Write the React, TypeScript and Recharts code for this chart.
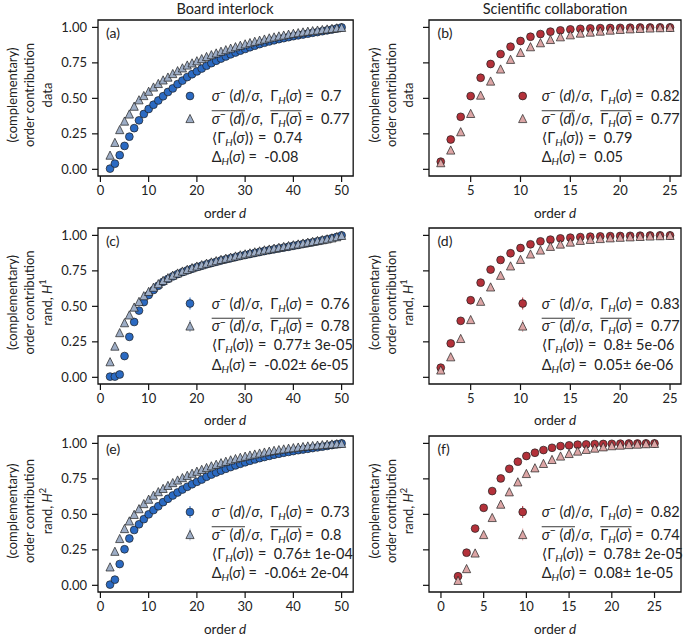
import React, { useLayoutEffect, useRef, useState } from 'react';
import { ScatterChart, Scatter, XAxis, YAxis, ReferenceArea } from 'recharts';

const FONT = "Lato, 'Open Sans', 'Noto Sans', 'DejaVu Sans', sans-serif";

// ---------- data ----------
const boardOrders = [2, 3, 4, 5, 6, 7, 8, 9, 10, 11, 12, 13, 14, 15, 16, 17, 18, 19, 20, 21, 22, 23, 24, 25, 26, 27, 28, 29, 30, 31, 32, 33, 34, 35, 36, 37, 38, 39, 40, 41, 42, 43, 44, 45, 46, 47, 48, 49, 50];
const sciOrders = [2, 3, 4, 5, 6, 7, 8, 9, 10, 11, 12, 13, 14, 15, 16, 17, 18, 19, 20, 21, 22, 23, 24, 25];

const boardTicks = [0, 10, 20, 30, 40, 50];
const sciTicks = [5, 10, 15, 20, 25];
const sciTicksF = [0, 5, 10, 15, 20, 25];
const yTicks = [0, 0.25, 0.5, 0.75, 1];

// (a) board interlock, data
const boardDataObs = [0.005, 0.04, 0.10, 0.165, 0.23, 0.29, 0.345, 0.39, 0.425, 0.455, 0.485, 0.515, 0.545, 0.57, 0.60, 0.625, 0.65, 0.67, 0.69, 0.71, 0.73, 0.748, 0.765, 0.78, 0.795, 0.81, 0.823, 0.836, 0.848, 0.86, 0.871, 0.882, 0.892, 0.901, 0.909, 0.917, 0.924, 0.931, 0.938, 0.944, 0.950, 0.956, 0.962, 0.967, 0.973, 0.979, 0.985, 0.992, 1.0];
const boardDataComp = [0.10, 0.19, 0.28, 0.34, 0.39, 0.445, 0.49, 0.52, 0.55, 0.58, 0.605, 0.63, 0.65, 0.675, 0.695, 0.715, 0.735, 0.75, 0.765, 0.78, 0.795, 0.808, 0.82, 0.832, 0.843, 0.854, 0.864, 0.874, 0.884, 0.893, 0.902, 0.91, 0.918, 0.926, 0.933, 0.94, 0.946, 0.952, 0.958, 0.963, 0.968, 0.973, 0.977, 0.981, 0.985, 0.989, 0.993, 0.997, 1.0];
// (c) board interlock, rand H1
const boardH1Obs = [0.005, 0.005, 0.02, 0.15, 0.285, 0.39, 0.47, 0.53, 0.58, 0.615, 0.645, 0.673, 0.693, 0.711, 0.727, 0.741, 0.753, 0.765, 0.776, 0.786, 0.796, 0.805, 0.814, 0.823, 0.831, 0.839, 0.847, 0.855, 0.862, 0.869, 0.876, 0.883, 0.89, 0.896, 0.902, 0.908, 0.914, 0.92, 0.927, 0.933, 0.939, 0.945, 0.951, 0.958, 0.965, 0.972, 0.98, 0.989, 1.0];
const boardH1Comp = [0.11, 0.22, 0.315, 0.385, 0.44, 0.495, 0.535, 0.575, 0.605, 0.635, 0.66, 0.683, 0.702, 0.72, 0.735, 0.749, 0.761, 0.773, 0.784, 0.794, 0.804, 0.813, 0.822, 0.831, 0.839, 0.847, 0.855, 0.863, 0.87, 0.877, 0.884, 0.891, 0.898, 0.904, 0.91, 0.916, 0.922, 0.928, 0.934, 0.94, 0.946, 0.952, 0.958, 0.964, 0.97, 0.976, 0.983, 0.991, 1.0];
// (e) board interlock, rand H2
const boardH2Obs = [0.005, 0.04, 0.15, 0.254, 0.33, 0.39, 0.43, 0.466, 0.50, 0.53, 0.557, 0.586, 0.61, 0.633, 0.654, 0.675, 0.694, 0.712, 0.729, 0.745, 0.765, 0.78, 0.795, 0.808, 0.821, 0.833, 0.845, 0.856, 0.867, 0.877, 0.887, 0.896, 0.904, 0.912, 0.92, 0.927, 0.934, 0.94, 0.946, 0.952, 0.957, 0.962, 0.967, 0.972, 0.977, 0.982, 0.988, 0.994, 1.0];
const boardH2Comp = [0.13, 0.24, 0.33, 0.40, 0.454, 0.50, 0.54, 0.576, 0.607, 0.635, 0.66, 0.683, 0.704, 0.724, 0.742, 0.759, 0.775, 0.79, 0.804, 0.817, 0.83, 0.842, 0.853, 0.864, 0.874, 0.884, 0.893, 0.902, 0.91, 0.918, 0.925, 0.932, 0.939, 0.945, 0.951, 0.956, 0.961, 0.966, 0.97, 0.974, 0.978, 0.982, 0.985, 0.988, 0.991, 0.994, 0.996, 0.998, 1.0];

// (b) scientific collaboration, data
const sciDataObs = [0.054, 0.21, 0.37, 0.516, 0.645, 0.742, 0.812, 0.864, 0.904, 0.934, 0.953, 0.97, 0.979, 0.986, 0.99, 0.993, 0.995, 0.996, 0.997, 0.998, 0.999, 0.999, 1.0, 1.0];
const sciDataComp = [0.047, 0.136, 0.265, 0.394, 0.523, 0.622, 0.707, 0.775, 0.824, 0.864, 0.892, 0.915, 0.934, 0.948, 0.96, 0.967, 0.974, 0.981, 0.986, 0.99, 0.993, 0.996, 0.998, 1.0];
// (d) scientific collaboration, rand H1
const sciH1Obs = [0.068, 0.239, 0.398, 0.543, 0.667, 0.759, 0.827, 0.874, 0.911, 0.937, 0.958, 0.97, 0.979, 0.984, 0.988, 0.991, 0.993, 0.995, 0.996, 0.997, 0.998, 0.999, 1.0, 1.0];
const sciH1Comp = [0.052, 0.145, 0.274, 0.407, 0.536, 0.637, 0.719, 0.785, 0.831, 0.869, 0.897, 0.923, 0.939, 0.953, 0.965, 0.972, 0.978, 0.983, 0.987, 0.99, 0.993, 0.996, 0.998, 1.0];
// (f) scientific collaboration, rand H2
const sciH2Obs = [0.064, 0.23, 0.40, 0.546, 0.664, 0.753, 0.821, 0.871, 0.911, 0.934, 0.953, 0.969, 0.981, 0.986, 0.991, 0.993, 0.995, 0.996, 0.997, 0.998, 0.999, 0.999, 1.0, 1.0];
const sciH2Comp = [0.035, 0.118, 0.228, 0.358, 0.478, 0.572, 0.659, 0.729, 0.788, 0.828, 0.859, 0.887, 0.911, 0.929, 0.946, 0.958, 0.967, 0.976, 0.984, 0.988, 0.992, 0.995, 0.998, 1.0];

const legendA = ['0.7', '0.77', '0.74', '-0.08'];
const legendB = ['0.82', '0.77', '0.79', '0.05'];
const legendC = ['0.76', '0.78', '0.77\u00b1 3e-05', '-0.02\u00b1 6e-05'];
const legendD = ['0.83', '0.77', '0.8\u00b1 5e-06', '0.05\u00b1 6e-06'];
const legendE = ['0.73', '0.8', '0.76\u00b1 1e-04', '-0.06\u00b1 2e-04'];
const legendF = ['0.82', '0.74', '0.78\u00b1 2e-05', '0.08\u00b1 1e-05'];

const colTitles = ['Board interlock', 'Scientific collaboration'];

// ---------- styles / geometry ----------
const BLUE = '#2b6ac2';
const BLUE_T = '#9dadc6';
const RED = '#b3313a';
const RED_T = '#dca5a5';
const EDGE = '#1f1f1f';
const TXT = '#222';

const colLeft = [97.5, 429];
const colRight = [352.7, 681];
const rowTop = [20, 227.5, 436];
const PLOT_H = 156;
const Y_DOMAIN: [number, number] = [-0.047, 1.052];
const LEG_FS = 14.5;

type Pt = { d: number; v: number };
const toPts = (orders: number[], vals: number[]): Pt[] => orders.map((d, i) => ({ d, v: vals[i] }));

type Seg = { t: string; i?: boolean; s?: 'sup' | 'sub'; o?: number };

function MathText({ x, y, segs, size = 13, anchor, rotate, baseline }: { x: number; y: number; segs: Seg[]; size?: number; anchor?: string; rotate?: boolean; baseline?: string }) {
  const ref = useRef<SVGTextElement>(null);
  const [bars, setBars] = useState<{ x1: number; x2: number }[]>([]);
  const ranges: Record<number, [number, number]> = {};
  let idx = 0;
  segs.forEach((s) => {
    const len = s.t.length;
    if (s.o != null) {
      if (!ranges[s.o]) ranges[s.o] = [idx, idx + len];
      else ranges[s.o][1] = idx + len;
    }
    idx += len;
  });
  useLayoutEffect(() => {
    const el = ref.current;
    if (!el) return;
    const out: { x1: number; x2: number }[] = [];
    Object.keys(ranges).forEach((k) => {
      const [a, b] = ranges[Number(k)];
      try {
        const x1 = el.getStartPositionOfChar(a).x;
        const x2 = el.getEndPositionOfChar(b - 1).x;
        out.push({ x1, x2 });
      } catch (e) {
        /* ignore */
      }
    });
    setBars(out);
  }, []);
  const SUP = -size * 0.36;
  const SUB = size * 0.24;
  let cur = 0;
  const spans = segs.map((s, k) => {
    const target = s.s === 'sup' ? SUP : s.s === 'sub' ? SUB : 0;
    const dy = target - cur;
    cur = target;
    return (
      <tspan key={k} dy={dy !== 0 ? dy : undefined} fontStyle={s.i ? 'italic' : undefined} fontSize={s.s ? size * 0.72 : undefined}>
        {s.t}
      </tspan>
    );
  });
  return (
    <g transform={rotate ? `rotate(-90 ${x} ${y})` : undefined}>
      <text ref={ref} x={x} y={y} fontSize={size} fontFamily={FONT} fill={TXT} textAnchor={anchor as any} dominantBaseline={baseline as any} style={{ whiteSpace: 'pre' }}>
        {spans}
      </text>
      {bars.map((b, k) => (
        <line key={k} x1={b.x1} x2={b.x2} y1={y - size * 0.88} y2={y - size * 0.88} stroke={TXT} strokeWidth={0.9} />
      ))}
    </g>
  );
}

const sigMinus = (o?: number): Seg[] => [
  { t: '\u03c3', i: true, o },
  { t: '\u2212', s: 'sup', o },
  { t: ' (', o },
  { t: 'd', i: true, o },
  { t: ')', o },
];
const legendLines = (vals: string[]): Seg[][] => [
  [...sigMinus(), { t: '/' }, { t: '\u03c3', i: true }, { t: ',  \u0393' }, { t: 'H', i: true, s: 'sub' }, { t: '(' }, { t: '\u03c3', i: true }, { t: ') =  ' + vals[0] }],
  [...sigMinus(1), { t: '/' }, { t: '\u03c3', i: true }, { t: ',  ' }, { t: '\u0393', o: 2 }, { t: 'H', i: true, s: 'sub', o: 2 }, { t: '(', o: 2 }, { t: '\u03c3', i: true, o: 2 }, { t: ')', o: 2 }, { t: ' =  ' + vals[1] }],
  [{ t: '\u27e8\u0393' }, { t: 'H', i: true, s: 'sub' }, { t: '(' }, { t: '\u03c3', i: true }, { t: ')\u27e9 =  ' + vals[2] }],
  [{ t: '\u0394' }, { t: 'H', i: true, s: 'sub' }, { t: '(' }, { t: '\u03c3', i: true }, { t: ') =  ' + vals[3] }],
];

function CircleMark({ cx, cy, color }: { cx: number; cy: number; color: string }) {
  return <circle cx={cx} cy={cy} r={3.9} fill={color} stroke={EDGE} strokeWidth={0.7} />;
}
function TriMark({ cx, cy, color }: { cx: number; cy: number; color: string }) {
  const h = 4.1;
  return <path d={`M${cx},${cy - h}L${cx + h},${cy + h}L${cx - h},${cy + h}Z`} fill={color} stroke={EDGE} strokeWidth={0.7} strokeLinejoin="miter" />;
}

type Panel = {
  letter: string;
  col: number;
  row: number;
  xDomain: [number, number];
  xTicks: number[];
  obs: Pt[];
  comp: Pt[];
  c1: string;
  c2: string;
  legend: string[];
  err: boolean;
};

const panels: Panel[] = [
  { letter: '(a)', col: 0, row: 0, xDomain: [-0.5, 52.4], xTicks: boardTicks, obs: toPts(boardOrders, boardDataObs), comp: toPts(boardOrders, boardDataComp), c1: BLUE, c2: BLUE_T, legend: legendA, err: false },
  { letter: '(b)', col: 1, row: 0, xDomain: [0.82, 26.1], xTicks: sciTicks, obs: toPts(sciOrders, sciDataObs), comp: toPts(sciOrders, sciDataComp), c1: RED, c2: RED_T, legend: legendB, err: false },
  { letter: '(c)', col: 0, row: 1, xDomain: [-0.5, 52.4], xTicks: boardTicks, obs: toPts(boardOrders, boardH1Obs), comp: toPts(boardOrders, boardH1Comp), c1: BLUE, c2: BLUE_T, legend: legendC, err: true },
  { letter: '(d)', col: 1, row: 1, xDomain: [0.82, 26.1], xTicks: sciTicks, obs: toPts(sciOrders, sciH1Obs), comp: toPts(sciOrders, sciH1Comp), c1: RED, c2: RED_T, legend: legendD, err: true },
  { letter: '(e)', col: 0, row: 2, xDomain: [-0.5, 52.4], xTicks: boardTicks, obs: toPts(boardOrders, boardH2Obs), comp: toPts(boardOrders, boardH2Comp), c1: BLUE, c2: BLUE_T, legend: legendE, err: true },
  { letter: '(f)', col: 1, row: 2, xDomain: [-1.4, 28.1], xTicks: sciTicksF, obs: toPts(sciOrders, sciH2Obs), comp: toPts(sciOrders, sciH2Comp), c1: RED, c2: RED_T, legend: legendF, err: true },
];

const yLabelThird: Seg[][] = [
  [{ t: 'data' }],
  [{ t: 'rand, ' }, { t: 'H', i: true }, { t: '1', s: 'sup' }],
  [{ t: 'rand, ' }, { t: 'H', i: true }, { t: '2', s: 'sup' }],
];
const yLabelX = [
  [11.5, 29, 46.5],
  [374, 391, 408],
];

const MT = 10;
const AXIS_H = 34;

function PanelChart({ p }: { p: Panel }) {
  const left = colLeft[p.col];
  const right = colRight[p.col];
  const top = rowTop[p.row];
  const yW = p.col === 0 ? 60 : 20;
  const mr = 4;
  const w = yW + (right - left) + mr;
  const h = MT + PLOT_H + AXIS_H;
  const tickStyle = { fontSize: 13, fill: TXT, fontFamily: FONT };
  return (
    <div style={{ position: 'absolute', left: left - yW, top: top - MT, width: w, height: h }}>
      <ScatterChart width={w} height={h} margin={{ top: MT, right: mr, bottom: 0, left: 0 }}>
        <XAxis
          type="number"
          dataKey="d"
          domain={p.xDomain}
          allowDataOverflow
          ticks={p.xTicks}
          interval={0}
          height={AXIS_H}
          tickSize={6}
          tickMargin={4}
          axisLine={false}
          tickLine={{ stroke: '#111', strokeWidth: 1.2 }}
          tick={tickStyle}
        />
        <YAxis
          type="number"
          dataKey="v"
          domain={Y_DOMAIN}
          allowDataOverflow
          ticks={yTicks}
          interval={0}
          width={yW}
          tickSize={6}
          tickMargin={5}
          axisLine={false}
          tickLine={{ stroke: '#111', strokeWidth: 1.2 }}
          tick={tickStyle}
          tickFormatter={(v: number) => (p.col === 0 ? v.toFixed(2) : '')}
        />
        <ReferenceArea x1={p.xDomain[0]} x2={p.xDomain[1]} y1={Y_DOMAIN[0]} y2={Y_DOMAIN[1]} fill="none" fillOpacity={0} stroke="#111" strokeWidth={1.3} ifOverflow="visible" />
        <Scatter data={p.obs} isAnimationActive={false} shape={(s: any) => <CircleMark cx={s.cx} cy={s.cy} color={p.c1} />} />
        <Scatter data={p.comp} isAnimationActive={false} shape={(s: any) => <TriMark cx={s.cx} cy={s.cy} color={p.c2} />} />
      </ScatterChart>
    </div>
  );
}

function Annotations() {
  const rowOff = [76, 98.5, 117.5, 137];
  const markX = [190, 522.7];
  const textX = [211.7, 541.7];
  return (
    <svg width={685} height={636} style={{ position: 'absolute', left: 0, top: 0, pointerEvents: 'none' }}>
      {colTitles.map((t, c) => (
        <text key={t} x={(colLeft[c] + colRight[c]) / 2} y={13.5} textAnchor="middle" fontSize={14.5} fontFamily={FONT} fill={TXT}>
          {t}
        </text>
      ))}
      {panels.map((p) => {
        const top = rowTop[p.row];
        const bottom = top + PLOT_H;
        const cx = (colLeft[p.col] + colRight[p.col]) / 2;
        const cy = top + PLOT_H / 2 - 3;
        const lines = legendLines(p.legend);
        return (
          <g key={p.letter}>
            <text x={colLeft[p.col] + 8.5} y={top + 18} fontSize={14} fontFamily={FONT} fill={TXT}>
              {p.letter}
            </text>
            <MathText x={cx} y={bottom + 41.5} size={13.5} anchor="middle" segs={[{ t: 'order ' }, { t: 'd', i: true }]} />
            <MathText x={yLabelX[p.col][0]} y={cy} anchor="middle" baseline="central" rotate segs={[{ t: '(complementary)' }]} />
            <MathText x={yLabelX[p.col][1]} y={cy} anchor="middle" baseline="central" rotate segs={[{ t: 'order contribution' }]} />
            <MathText x={yLabelX[p.col][2]} y={cy} anchor="middle" baseline="central" rotate segs={yLabelThird[p.row]} />
            {p.err && (
              <>
                <line x1={markX[p.col]} x2={markX[p.col]} y1={top + rowOff[0] - 6} y2={top + rowOff[0] + 6} stroke={p.c1} strokeWidth={1} />
                <line x1={markX[p.col]} x2={markX[p.col]} y1={top + rowOff[1] - 6} y2={top + rowOff[1] + 6} stroke={p.c2} strokeWidth={1} />
              </>
            )}
            <CircleMark cx={markX[p.col]} cy={top + rowOff[0]} color={p.c1} />
            <TriMark cx={markX[p.col]} cy={top + rowOff[1]} color={p.c2} />
            {lines.map((segs, k) => (
              <MathText key={k} x={textX[p.col]} y={top + rowOff[k] + 5} size={LEG_FS} segs={segs} />
            ))}
          </g>
        );
      })}
    </svg>
  );
}

export default function App() {
  return (
    <div style={{ position: 'absolute', left: 0, top: 0, width: 685, height: 636, background: '#fff', fontFamily: FONT }}>
      {panels.map((p) => (
        <PanelChart key={p.letter} p={p} />
      ))}
      <Annotations />
    </div>
  );
}
